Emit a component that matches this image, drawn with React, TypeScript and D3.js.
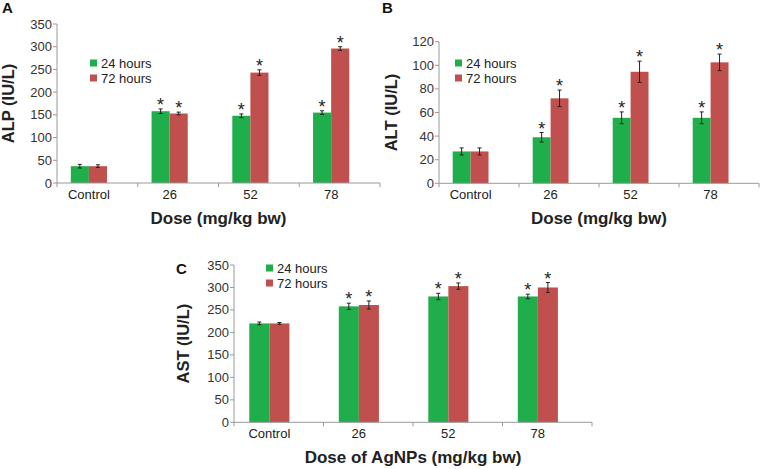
import React from "react";
import * as d3 from "d3";

// data
const categories = ["Control", "26", "52", "78"];
const seriesNames = ["24 hours", "72 hours"];

const alp24 = [37, 158, 148, 155];
const alp24Err = [4, 5, 4, 4];
const alp72 = [37, 153, 243, 296];
const alp72Err = [3, 3, 6, 4];

const alt24 = [27, 39, 55.5, 55.5];
const alt24Err = [3, 4, 5, 5];
const alt72 = [27, 72, 94.5, 102.5];
const alt72Err = [3, 7, 9, 7];

const ast24 = [220, 258, 280, 280];
const ast24Err = [3, 7, 7, 5];
const ast72 = [220, 261, 303, 300];
const ast72Err = [2, 9, 7, 11];

const significant = [false, true, true, true];

const alpTicks = [0, 50, 100, 150, 200, 250, 300, 350];
const altTicks = [0, 20, 40, 60, 80, 100, 120];
const astTicks = [0, 50, 100, 150, 200, 250, 300, 350];

const GREEN = "#20ad4c";
const RED = "#c0504d";
const FONT = "'Liberation Sans', Arial, sans-serif";

type PanelProps = {
  letter: string;
  letterX: number;
  letterY: number;
  x0: number;
  x1: number;
  yTop: number;
  yBottom: number;
  ticks: number[];
  s24: number[];
  e24: number[];
  s72: number[];
  e72: number[];
  yTitle: string;
  yTitleX: number;
  xTitle: string;
  xTitleY: number;
  legendX: number;
  legendY: number;
};

function Panel(p: PanelProps) {
  const x = d3.scaleBand().domain(categories).range([p.x0, p.x1]);
  const y = d3
    .scaleLinear()
    .domain([0, p.ticks[p.ticks.length - 1]])
    .range([p.yBottom, p.yTop]);
  const bw = x.bandwidth();
  const barW = bw * 0.224;
  const center = (c: string) => (x(c) as number) + bw * 0.395;
  const colors = [GREEN, RED];
  const vals = [p.s24, p.s72];
  const errs = [p.e24, p.e72];
  const bounds = [...categories.map((c) => x(c) as number), p.x1];

  return (
    <g fontFamily={FONT}>
      <text x={p.letterX} y={p.letterY} fontSize={15} fontWeight="bold" fill="#111">
        {p.letter}
      </text>

      {/* bars */}
      {categories.map((c, i) =>
        vals.map((v, s) => {
          const bx = center(c) - barW + s * barW;
          const top = y(v[i]);
          const eTop = y(v[i] + errs[s][i]);
          const eBot = y(v[i] - errs[s][i]);
          const cx = bx + barW / 2;
          return (
            <g key={c + s}>
              <rect x={bx} y={top} width={barW} height={p.yBottom - top} fill={colors[s]} />
              <line x1={cx} x2={cx} y1={eTop} y2={eBot} stroke="#222" strokeWidth={1} />
              <line x1={cx - 2} x2={cx + 2} y1={eTop} y2={eTop} stroke="#222" strokeWidth={1} />
              <line x1={cx - 2} x2={cx + 2} y1={eBot} y2={eBot} stroke="#222" strokeWidth={1} />
              {significant[i] && (
                <text x={cx} y={eTop + 2} fontSize={18} textAnchor="middle" fill="#222">
                  *
                </text>
              )}
            </g>
          );
        })
      )}

      {/* y axis */}
      <line x1={p.x0} x2={p.x0} y1={p.yTop} y2={p.yBottom} stroke="#9a9a9a" />
      {p.ticks.map((t) => (
        <g key={t}>
          <line x1={p.x0 - 4} x2={p.x0} y1={y(t)} y2={y(t)} stroke="#9a9a9a" />
          <text x={p.x0 - 5} y={y(t)} dy="0.35em" fontSize={13} textAnchor="end" fill="#333">
            {t}
          </text>
        </g>
      ))}

      {/* x axis */}
      <line x1={p.x0} x2={p.x1} y1={p.yBottom} y2={p.yBottom} stroke="#9a9a9a" />
      {bounds.map((b, i) => (
        <line key={i} x1={b} x2={b} y1={p.yBottom} y2={p.yBottom + 4} stroke="#9a9a9a" />
      ))}
      {categories.map((c) => (
        <text key={c} x={center(c)} y={p.yBottom + 16} fontSize={13} textAnchor="middle" fill="#222">
          {c}
        </text>
      ))}

      <text
        x={(p.x0 + p.x1) / 2}
        y={p.xTitleY}
        fontSize={17}
        fontWeight="bold"
        textAnchor="middle"
        fill="#222"
      >
        {p.xTitle}
      </text>
      <text
        transform={`translate(${p.yTitleX},${(p.yTop + p.yBottom) / 2}) rotate(-90)`}
        fontSize={16.5}
        fontWeight="bold"
        textAnchor="middle"
        fill="#222"
      >
        {p.yTitle}
      </text>

      {/* legend */}
      {seriesNames.map((n, s) => (
        <g key={n} transform={`translate(${p.legendX},${p.legendY + s * 15})`}>
          <rect x={0} y={-3.5} width={7} height={7} fill={colors[s]} />
          <text x={11} y={0} dy="0.35em" fontSize={13} fill="#222">
            {n}
          </text>
        </g>
      ))}
    </g>
  );
}

export default function App() {
  return (
    <svg
      width={760}
      height={469}
      style={{ position: "absolute", left: 0, top: 0, background: "#fff" }}
    >
      <Panel
        letter="A"
        letterX={2}
        letterY={13}
        x0={57}
        x1={380}
        yTop={24}
        yBottom={183}
        ticks={alpTicks}
        s24={alp24}
        e24={alp24Err}
        s72={alp72}
        e72={alp72Err}
        yTitle="ALP (IU/L)"
        yTitleX={14}
        xTitle="Dose (mg/kg bw)"
        xTitleY={224}
        legendX={90}
        legendY={63}
      />
      <Panel
        letter="B"
        letterX={382}
        letterY={13}
        x0={439}
        x1={759}
        yTop={41.7}
        yBottom={183.3}
        ticks={altTicks}
        s24={alt24}
        e24={alt24Err}
        s72={alt72}
        e72={alt72Err}
        yTitle="ALT (IU/L)"
        yTitleX={397}
        xTitle="Dose (mg/kg bw)"
        xTitleY={224}
        legendX={455}
        legendY={63}
      />
      <Panel
        letter="C"
        letterX={176}
        letterY={274}
        x0={234}
        x1={592}
        yTop={265}
        yBottom={422.3}
        ticks={astTicks}
        s24={ast24}
        e24={ast24Err}
        s72={ast72}
        e72={ast72Err}
        yTitle="AST (IU/L)"
        yTitleX={189}
        xTitle="Dose of AgNPs (mg/kg bw)"
        xTitleY={463}
        legendX={266}
        legendY={268}
      />
    </svg>
  );
}
